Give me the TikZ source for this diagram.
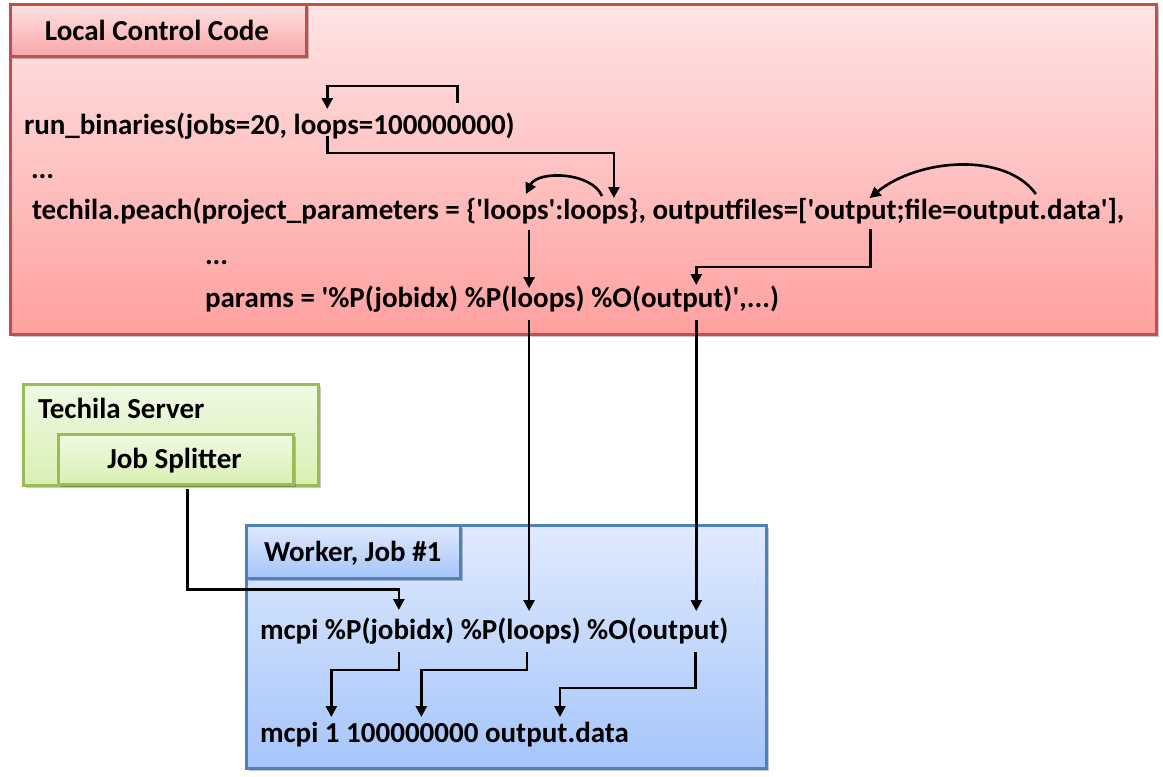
\documentclass[tikz,border=0pt]{standalone}
\usepackage{fontspec}
\newfontfamily\cf{Carlito}
\usetikzlibrary{arrows.meta,shadows,calc}
\definecolor{redbd}{HTML}{C0504D}
\definecolor{grnbd}{HTML}{9BBB59}
\definecolor{blubd}{HTML}{4F81BD}
\definecolor{redtop}{HTML}{FFE4E4}
\definecolor{redbot}{HTML}{FFA0A0}
\definecolor{rtitop}{HTML}{FFE2E2}
\definecolor{rtibot}{HTML}{F9A6A6}
\definecolor{grntop}{HTML}{F0F9E4}
\definecolor{grnbot}{HTML}{D8F0B2}
\definecolor{blutop}{HTML}{E0EAFD}
\definecolor{blubot}{HTML}{A5C5FA}
\newcommand{\wsp}{\ \hbox{}}
\tikzset{
  wd/.style={inner sep=0pt, outer sep=0pt, anchor=base west, text height=21pt, text depth=6pt,
    font=\cf\bfseries\fontsize{29}{34}\selectfont},
  arr/.style={line width=2.6pt, -{Triangle[length=11pt,width=11pt]}},
  boxbase/.style={anchor=north west, inner sep=0pt, line width=2.5pt,
    drop shadow={shadow xshift=3pt, shadow yshift=-3pt, fill=black, opacity=0.22}},
  redbox/.style={boxbase, draw=redbd, top color=redtop, bottom color=redbot},
  redtitle/.style={boxbase, draw=redbd, top color=rtitop, bottom color=rtibot},
  grnbox/.style={boxbase, draw=grnbd, top color=grntop, bottom color=grnbot},
  blubox/.style={boxbase, draw=blubd, top color=blutop, bottom color=blubot},
}
\begin{document}
\begin{tikzpicture}[x=1pt,y=-1pt]
\useasboundingbox (0,0) rectangle (1163,777);
% boxes
\node[redbox, minimum width=1146pt, minimum height=330pt] (red) at (9,3) {};
\node[redtitle, minimum width=296pt, minimum height=52pt] (redt) at (9,3) {};
\node[grnbox, minimum width=295pt, minimum height=101pt] (grn) at (22,383) {};
\node[grnbox, minimum width=235pt, minimum height=50pt] (JS) at (57,433) {};
\node[blubox, minimum width=520pt, minimum height=243pt] (blu) at (245,524) {};
\node[blubox, minimum width=214pt, minimum height=53pt] (blut) at (245,524) {};
% titles
\node[wd] (t1) at (45,40) {Local Control Code};
\node[wd] (t2) at (38,418) {Techila Server};
\node[wd, anchor=base] (t3) at (174.5,468) {Job Splitter};
\node[wd] (t4) at (264,561) {Worker, Job \#1};
% line 1
\node[wd] (A1) at (24,134) {run\_binaries(jobs=20,\wsp};
\node[wd] (A2) at (A1.base east) {loops};
\node[wd] (A3) at (A2.base east) {=};
\node[wd] (A4) at (A3.base east) {100000000};
\node[wd] (A5) at (A4.base east) {)};
\node[wd] (dots1) at (31,178) {...};
% line 3
\node[wd] (B1) at (32,219) {techila.peach(project\_parameters = \{'};
\node[wd] (B2) at (B1.base east) {loops};
\node[wd] (B3) at (B2.base east) {':};
\node[wd] (B4) at (B3.base east) {loops};
\node[wd] (B5) at (B4.base east) {\}, outputfiles=['};
\node[wd] (B6) at (B5.base east) {output};
\node[wd] (B7) at (B6.base east) {;file=};
\node[wd] (B8) at (B7.base east) {output.data};
\node[wd] (B9) at (B8.base east) {'],};
\node[wd] (dots2) at (205,264) {...};
% line 5
\node[wd] (C1) at (205,307) {params = '\%P(jobidx) \%P(};
\node[wd] (C2) at (C1.base east) {loops};
\node[wd] (C3) at (C2.base east) {) \%O(};
\node[wd] (C4) at (C3.base east) {output};
\node[wd] (C5) at (C4.base east) {)',...)};
% worker line 1
\node[wd] (D1) at (260,639) {mcpi \%P(};
\node[wd] (D2) at (D1.base east) {jobidx};
\node[wd] (D3) at (D2.base east) {) \%P(};
\node[wd] (D4) at (D3.base east) {loops};
\node[wd] (D5) at (D4.base east) {) \%O(};
\node[wd] (D6) at (D5.base east) {output};
\node[wd] (D7) at (D6.base east) {)};
% worker line 2
\node[wd] (E1) at (260,742) {mcpi\wsp};
\node[wd] (E2) at (E1.base east) {1};
\node[wd] (E3) at (E2.base east) {\wsp};
\node[wd] (E4) at (E3.base east) {100000000};
\node[wd] (E5) at (E4.base east) {\wsp};
\node[wd] (E6) at (E5.base east) {output.data};
% connectors
\draw[arr] ($(A4.north)+(18,-10)$) -- ++(0,-17) -| ($(A2.north)+(1,-4)$);
\draw[arr] ($(A2.south)+(1,-4)$) -- ++(0,17) -| ($(B4.north)+(18,0)$);
\draw[arr] ($(B4.north)+(6,-2)$) .. controls +(-10,-24) and +(12,-24) .. ($(B2.north)+(10,-4)$);
\draw[arr] ($(C2.north |- B2.south)+(-14,5)$) -- ($(C2.north)+(-14,2)$);
\draw[arr] ($(B8.north)+(7,-4)$) .. controls +(-30,-42) and +(50,-40) .. ($(B6.north)+(14,0)$);
\draw[arr] ($(B6.south)+(15,4)$) -- ++(0,38) -| ($(C4.north)+(14,-1)$);
\draw[arr] ($(C2.south)+(-14,7)$) -- ($(C2.south |- D4.north)+(-14,-7)$);
\draw[arr] ($(C4.south)+(14,7)$) -- ($(C4.south |- D6.north)+(14,-7)$);
\draw[arr] ($(JS.south)+(11.5,3)$) -- ++(0,101) -| ($(D2.north)+(-9,-8)$);
\draw[arr] ($(D2.south)+(-9,7)$) -- ++(0,18) -| ($(E2.north)+(-1,-4)$);
\draw[arr] ($(D4.south)+(-12,7)$) -- ++(0,18) -| ($(E4.north)+(9,-4)$);
\draw[arr] ($(D6.south)+(17,7)$) -- ++(0,36) -| ($(E6.north)+(3,-4)$);
\end{tikzpicture}
\end{document}
